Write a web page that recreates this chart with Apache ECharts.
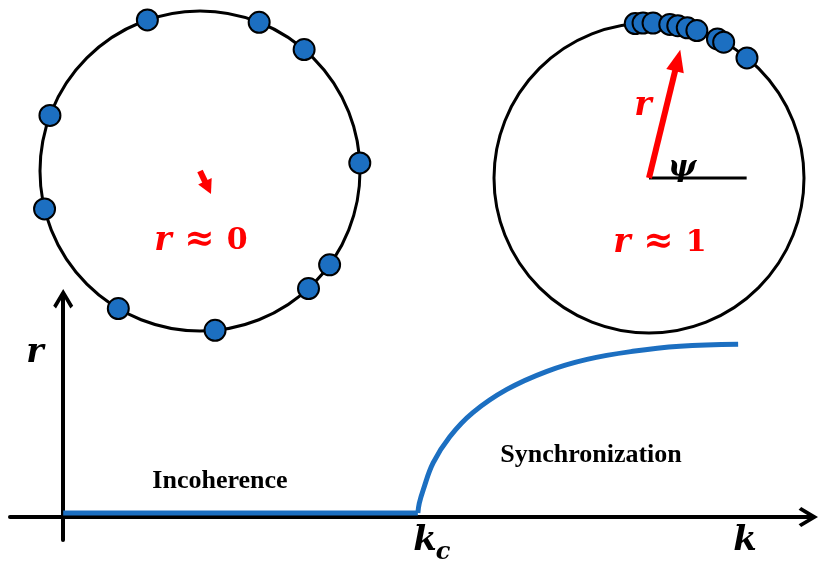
<!DOCTYPE html>
<html>
<head>
<meta charset="utf-8">
<script src="https://cdn.jsdelivr.net/npm/echarts@6/dist/echarts.min.js"></script>
<style>
html,body{margin:0;padding:0;background:#fff;}
#chart{width:821px;height:564px;}
</style>
</head>
<body>
<div id="chart"></div>
<script>
// ---- data ----
// phase angles (degrees, counter-clockwise from +x) of oscillators on the unit circle
const incoherentPhases = [109.2, 68.3, 49.4, 2.9, 324.1, 312.7, 275.4, 239.3, 193.7, 159.7];
const syncPhases = [95.1, 92.2, 88.5, 82.3, 79.3, 75.7, 72.0, 63.8, 61.2, 50.8];
// order-parameter vectors [length, angle]
const incoherentVector = [0.115, 295.6];
const syncVector = [0.78, 76.3];
const psiReference = [0.63, 0];
// r(k) curve
const kc = 1.0;
const incoherenceBranch = [[0, 0.018], [1.0, 0.018]];
const syncBranch = [[1.0, 0.018], [1.004, 0.06], [1.015, 0.118], [1.043, 0.236], [1.09, 0.35],
  [1.155, 0.455], [1.251, 0.556], [1.364, 0.635], [1.477, 0.687], [1.606, 0.722],
  [1.739, 0.744], [1.903, 0.753]];
// texts
const labelIncoherentState = ['r', ' ≈ ', '0'];
const labelSyncState = ['r', ' ≈ ', '1'];
const regionLabels = ['Incoherence', 'Synchronization'];
const axisNames = { y: 'r', x: 'k', xc: ['k', 'c'] };
const psiLabel = 'ψ';

// ---- styles ----
const BLUE = '#1c6fc1';
const RED = '#ff0000';
const MATH = 'DejaVu Serif';
const TEXT = 'Liberation Serif';
const chevron = 'path://M50,0 L100,84 L86,97 L58,50 L58,100 L42,100 L42,50 L14,97 L0,84 Z';

const chart = echarts.init(document.getElementById('chart'), null, { renderer: 'canvas' });

function angleAxis(i) {
  return {
    polarIndex: i, type: 'value', min: 0, max: 360, startAngle: 0, clockwise: false,
    axisLine: { show: true, lineStyle: { color: '#000', width: 3 } },
    axisTick: { show: false }, axisLabel: { show: false }, splitLine: { show: false }
  };
}
function radiusAxis(i) {
  return { polarIndex: i, type: 'value', min: 0, max: 1, show: false };
}
function dots(i, phases) {
  return {
    type: 'scatter', coordinateSystem: 'polar', polarIndex: i, silent: true,
    symbol: 'circle', symbolSize: 21,
    itemStyle: { color: BLUE, borderColor: '#000', borderWidth: 2, opacity: 1 },
    data: phases.map(a => [1, a]), z: 5
  };
}
function arrow(i, vec, width, head) {
  return {
    type: 'line', coordinateSystem: 'polar', polarIndex: i, silent: true,
    lineStyle: { color: RED, width: width, cap: 'butt' },
    itemStyle: { color: RED },
    symbol: 'none', showSymbol: true,
    data: [
      { value: [0, vec[1]], symbol: 'none' },
      { value: [vec[0], vec[1]], symbol: 'triangle', symbolSize: head, symbolRotate: vec[1] - 90 }
    ],
    z: 4
  };
}
function mathText(x, y, parts, color) {
  return {
    type: 'text', x: x, y: y, silent: true,
    style: {
      text: '{i|' + parts[0] + '}{s|' + parts[1] + '}{b|' + parts[2] + '}',
      align: 'center', verticalAlign: 'middle',
      rich: {
        i: { fontFamily: MATH, fontStyle: 'italic', fontWeight: 'bold', fontSize: 33, fill: color },
        s: { fontFamily: MATH, fontWeight: 'bold', fontSize: 36, fill: color },
        b: { fontFamily: MATH, fontWeight: 'bold', fontSize: 30, fill: color }
      }
    }
  };
}
function plainText(x, y, txt, opts) {
  return {
    type: 'text', x: x, y: y, silent: true,
    style: Object.assign({ text: txt, align: 'center', verticalAlign: 'middle', fill: '#000' }, opts)
  };
}

const option = {
  animation: false,
  backgroundColor: '#fff',
  polar: [
    { center: [200, 171], radius: 160 },
    { center: [649, 178], radius: 155 }
  ],
  angleAxis: [angleAxis(0), angleAxis(1)],
  radiusAxis: [radiusAxis(0), radiusAxis(1)],
  grid: { left: 10, right: 13, top: 299, bottom: 24, containLabel: false },
  xAxis: {
    type: 'value', min: -0.15, max: 2.1,
    axisLine: { onZero: true, symbol: ['none', chevron], symbolSize: [20, 20], lineStyle: { color: '#000', width: 4 } },
    axisTick: { show: false }, axisLabel: { show: false }, splitLine: { show: false }
  },
  yAxis: {
    type: 'value', min: -0.1, max: 0.95,
    axisLine: { onZero: true, symbol: ['none', chevron], symbolSize: [20, 20], lineStyle: { color: '#000', width: 4 } },
    axisTick: { show: false }, axisLabel: { show: false }, splitLine: { show: false }
  },
  series: [
    {
      type: 'line', coordinateSystem: 'polar', polarIndex: 1, silent: true, symbol: 'none',
      lineStyle: { color: '#000', width: 3 }, data: [[0, psiReference[1]], psiReference], z: 3
    },
    arrow(0, incoherentVector, 6, [15, 14]),
    arrow(1, syncVector, 6, [18, 22]),
    dots(0, incoherentPhases),
    dots(1, syncPhases),
    {
      type: 'line', silent: true, symbol: 'none', data: incoherenceBranch,
      lineStyle: { color: BLUE, width: 5, cap: 'butt' }, z: 3
    },
    {
      type: 'line', silent: true, symbol: 'none', data: syncBranch, smooth: 0.4,
      lineStyle: { color: BLUE, width: 5, cap: 'butt' }, z: 3
    }
  ],
  graphic: [
    mathText(201, 241, labelIncoherentState, RED),
    mathText(660, 243, labelSyncState, RED),
    plainText(643, 106, 'r', { fontFamily: MATH, fontStyle: 'italic', fontWeight: 'bold', fontSize: 33, fill: RED }),
    plainText(682, 168, psiLabel, { fontFamily: MATH, fontStyle: 'italic', fontWeight: 'bold', fontSize: 30 }),
    plainText(35, 353, axisNames.y, { fontFamily: MATH, fontStyle: 'italic', fontWeight: 'bold', fontSize: 33 }),
    plainText(745, 541, axisNames.x, { fontFamily: MATH, fontStyle: 'italic', fontWeight: 'bold', fontSize: 34 }),
    plainText(425, 541, axisNames.xc[0], { fontFamily: MATH, fontStyle: 'italic', fontWeight: 'bold', fontSize: 34 }),
    plainText(443, 553, axisNames.xc[1], { fontFamily: MATH, fontStyle: 'italic', fontWeight: 'bold', fontSize: 24 }),
    plainText(220, 481, regionLabels[0], { fontFamily: TEXT, fontWeight: 'bold', fontSize: 26 }),
    plainText(591, 455, regionLabels[1], { fontFamily: TEXT, fontWeight: 'bold', fontSize: 26 })
  ]
};
chart.setOption(option);
</script>
</body>
</html>
